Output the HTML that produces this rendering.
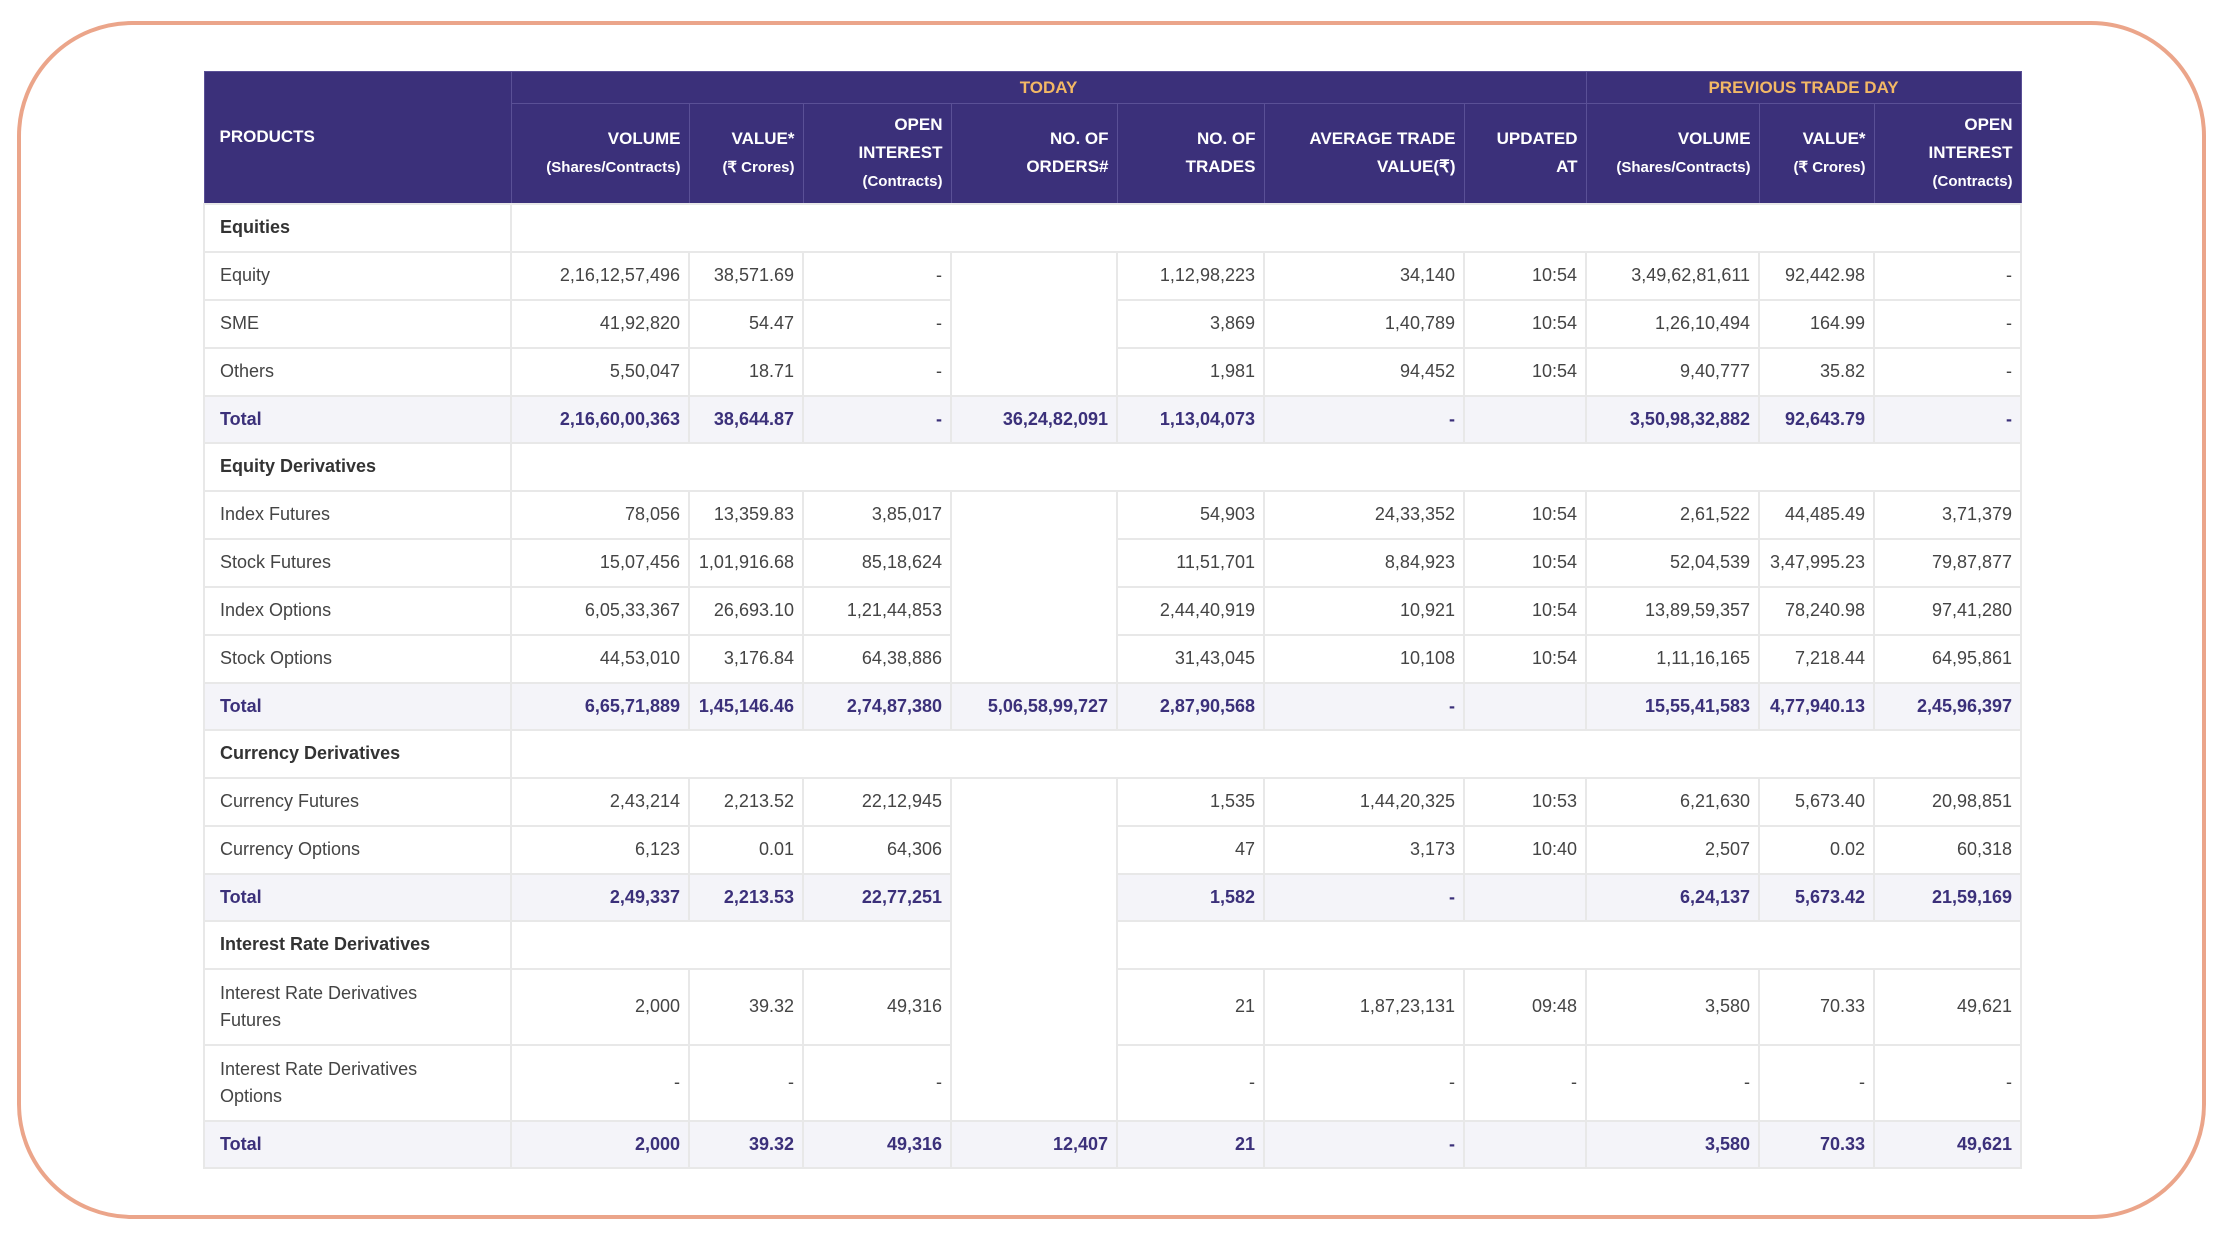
<!DOCTYPE html>
<html><head><meta charset="utf-8"><style>
html,body{margin:0;padding:0;background:#fff;width:2223px;height:1240px;overflow:hidden;font-family:"Liberation Sans",sans-serif;}
.frame{position:absolute;left:17px;top:21px;width:2181px;height:1190px;border:4px solid #eba58a;border-radius:115px;}
table{position:absolute;left:203px;top:71px;border-collapse:collapse;table-layout:fixed;width:1817px;}
td,th{padding:0 8px 0 8px;font-size:18px;color:#444;text-align:right;border:2px solid #e8e8e8;white-space:nowrap;overflow:hidden}
th{background:#3b307a;color:#fff;font-weight:bold;font-size:17px;border:1.5px solid #5a5096;line-height:28px;vertical-align:middle}
th small{font-size:15px;font-weight:bold}
th.grp{color:#f3b865;text-align:center;height:31px;line-height:20px;font-size:17px}
th.prod{text-align:left;padding-left:15px}
td.l{text-align:left;padding-left:15px}
tr.r td{height:46px}
tr.sec td{height:46px}
tr.sec td.l{font-weight:bold;color:#333}
tr.tot td{background:#f4f4f9;color:#3b307a;font-weight:bold;height:45px}
tr.tall td{height:74px}
tr.tall td.l{white-space:normal;line-height:27px}
tr.tall td.l span{display:block;width:230px}
td.blank{background:#fff !important}
</style></head><body>
<div class="frame"></div>
<table>
<colgroup><col style="width:307px"><col style="width:178px"><col style="width:114px"><col style="width:148px"><col style="width:166px"><col style="width:147px"><col style="width:200px"><col style="width:122px"><col style="width:173px"><col style="width:115px"><col style="width:147px"></colgroup>
<tr>
<th class="prod" rowspan="2">PRODUCTS</th>
<th class="grp" colspan="7">TODAY</th>
<th class="grp" colspan="3">PREVIOUS TRADE DAY</th>
</tr>
<tr style="height:100px">
<th>VOLUME<br><small>(Shares/Contracts)</small></th>
<th>VALUE*<br><small>(₹ Crores)</small></th>
<th>OPEN<br>INTEREST<br><small>(Contracts)</small></th>
<th>NO. OF<br>ORDERS#</th>
<th>NO. OF<br>TRADES</th>
<th>AVERAGE TRADE<br>VALUE(₹)</th>
<th>UPDATED<br>AT</th>
<th>VOLUME<br><small>(Shares/Contracts)</small></th>
<th>VALUE*<br><small>(₹ Crores)</small></th>
<th>OPEN<br>INTEREST<br><small>(Contracts)</small></th>
</tr>
<tr class="sec"><td class="l">Equities</td><td colspan="10"></td></tr>
<tr class="r"><td class="l">Equity</td><td>2,16,12,57,496</td><td>38,571.69</td><td>-</td><td rowspan="3"></td><td>1,12,98,223</td><td>34,140</td><td>10:54</td><td>3,49,62,81,611</td><td>92,442.98</td><td>-</td></tr>
<tr class="r"><td class="l">SME</td><td>41,92,820</td><td>54.47</td><td>-</td><td>3,869</td><td>1,40,789</td><td>10:54</td><td>1,26,10,494</td><td>164.99</td><td>-</td></tr>
<tr class="r"><td class="l">Others</td><td>5,50,047</td><td>18.71</td><td>-</td><td>1,981</td><td>94,452</td><td>10:54</td><td>9,40,777</td><td>35.82</td><td>-</td></tr>
<tr class="tot"><td class="l">Total</td><td>2,16,60,00,363</td><td>38,644.87</td><td>-</td><td>36,24,82,091</td><td>1,13,04,073</td><td>-</td><td></td><td>3,50,98,32,882</td><td>92,643.79</td><td>-</td></tr>
<tr class="sec"><td class="l">Equity Derivatives</td><td colspan="10"></td></tr>
<tr class="r"><td class="l">Index Futures</td><td>78,056</td><td>13,359.83</td><td>3,85,017</td><td rowspan="4"></td><td>54,903</td><td>24,33,352</td><td>10:54</td><td>2,61,522</td><td>44,485.49</td><td>3,71,379</td></tr>
<tr class="r"><td class="l">Stock Futures</td><td>15,07,456</td><td>1,01,916.68</td><td>85,18,624</td><td>11,51,701</td><td>8,84,923</td><td>10:54</td><td>52,04,539</td><td>3,47,995.23</td><td>79,87,877</td></tr>
<tr class="r"><td class="l">Index Options</td><td>6,05,33,367</td><td>26,693.10</td><td>1,21,44,853</td><td>2,44,40,919</td><td>10,921</td><td>10:54</td><td>13,89,59,357</td><td>78,240.98</td><td>97,41,280</td></tr>
<tr class="r"><td class="l">Stock Options</td><td>44,53,010</td><td>3,176.84</td><td>64,38,886</td><td>31,43,045</td><td>10,108</td><td>10:54</td><td>1,11,16,165</td><td>7,218.44</td><td>64,95,861</td></tr>
<tr class="tot"><td class="l">Total</td><td>6,65,71,889</td><td>1,45,146.46</td><td>2,74,87,380</td><td>5,06,58,99,727</td><td>2,87,90,568</td><td>-</td><td></td><td>15,55,41,583</td><td>4,77,940.13</td><td>2,45,96,397</td></tr>
<tr class="sec"><td class="l">Currency Derivatives</td><td colspan="10"></td></tr>
<tr class="r"><td class="l">Currency Futures</td><td>2,43,214</td><td>2,213.52</td><td>22,12,945</td><td rowspan="6" class="blank"></td><td>1,535</td><td>1,44,20,325</td><td>10:53</td><td>6,21,630</td><td>5,673.40</td><td>20,98,851</td></tr>
<tr class="r"><td class="l">Currency Options</td><td>6,123</td><td>0.01</td><td>64,306</td><td>47</td><td>3,173</td><td>10:40</td><td>2,507</td><td>0.02</td><td>60,318</td></tr>
<tr class="tot"><td class="l">Total</td><td>2,49,337</td><td>2,213.53</td><td>22,77,251</td><td>1,582</td><td>-</td><td></td><td>6,24,137</td><td>5,673.42</td><td>21,59,169</td></tr>
<tr class="sec"><td class="l">Interest Rate Derivatives</td><td colspan="3"></td><td colspan="6"></td></tr>
<tr class="r tall"><td class="l"><span>Interest Rate Derivatives Futures</span></td><td>2,000</td><td>39.32</td><td>49,316</td><td>21</td><td>1,87,23,131</td><td>09:48</td><td>3,580</td><td>70.33</td><td>49,621</td></tr>
<tr class="r tall"><td class="l"><span>Interest Rate Derivatives Options</span></td><td>-</td><td>-</td><td>-</td><td>-</td><td>-</td><td>-</td><td>-</td><td>-</td><td>-</td></tr>
<tr class="tot"><td class="l">Total</td><td>2,000</td><td>39.32</td><td>49,316</td><td>12,407</td><td>21</td><td>-</td><td></td><td>3,580</td><td>70.33</td><td>49,621</td></tr>
</table>
</body></html>
